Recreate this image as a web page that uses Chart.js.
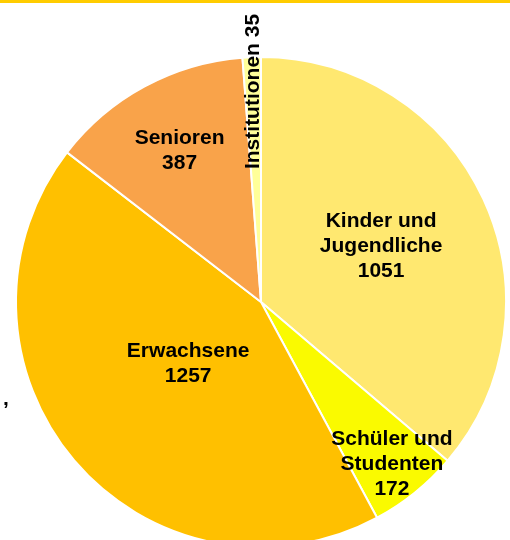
<!DOCTYPE html>
<html>
<head>
<meta charset="utf-8">
<script src="https://cdn.jsdelivr.net/npm/chart.js"></script>
<style>
    html, body { margin: 0; padding: 0; background: #ffffff; overflow: hidden; }
    #wrap { position: relative; width: 510px; height: 560px; }
</style>
</head>
<body>
<div id="wrap"><canvas id="nutzerChart"></canvas></div>
<script>
// Datos de la grafica
var categorias = ['Kinder und Jugendliche', 'Schüler und Studenten', 'Erwachsene', 'Senioren', 'Institutionen'];
var lineas = [['Kinder und', 'Jugendliche'], ['Schüler und', 'Studenten'], ['Erwachsene'], ['Senioren'], ['Institutionen']];
var valores = [1051, 172, 1257, 387, 35];
var colores = ['#FFE870', '#FAFA00', '#FFC000', '#F9A34A', '#FFFF99'];

window.onload = function () {

    // posicion de cada etiqueta (fraccion del radio)
    var radioEtiqueta = [0.54, 0.85, 0.39, 0.70, 0.86];
    var fuente = 'bold 21px "Liberation Sans", Arial, sans-serif';

    var etiquetasPlugin = {
        id: 'etiquetas',
        beforeDraw: function (chart) {
            var ctx = chart.ctx;
            ctx.save();
            ctx.fillStyle = '#FFCC00';
            ctx.fillRect(0, 0, chart.width, 3);
            ctx.restore();
        },
        afterDatasetsDraw: function (chart) {
            var ctx = chart.ctx;
            var arcs = chart.getDatasetMeta(0).data;
            ctx.save();
            ctx.font = fuente;
            ctx.fillStyle = '#000000';
            ctx.textAlign = 'center';
            ctx.textBaseline = 'middle';
            arcs.forEach(function (arc, i) {
                var p = arc.getProps(['x', 'y', 'startAngle', 'endAngle', 'outerRadius'], true);
                var medio = (p.startAngle + p.endAngle) / 2;
                var r = p.outerRadius * radioEtiqueta[i];
                var x = p.x + Math.cos(medio) * r;
                var y = p.y + Math.sin(medio) * r;
                if (i === 4) {
                    // Institutionen va girado
                    ctx.save();
                    ctx.translate(x, y);
                    ctx.rotate(-Math.PI / 2);
                    ctx.fillText(lineas[i][0] + ' ' + valores[i], 0, 0);
                    ctx.restore();
                    return;
                }
                var textos = lineas[i].concat([String(valores[i])]);
                var alto = 25;
                var y0 = y - (textos.length - 1) * alto / 2;
                textos.forEach(function (t, k) {
                    ctx.fillText(t, x, y0 + k * alto);
                });
            });
            // coma suelta a la izquierda
            ctx.textAlign = 'left';
            ctx.textBaseline = 'alphabetic';
            ctx.fillText(',', 3, 405);
            ctx.restore();
        }
    };

    var ctx = document.getElementById('nutzerChart');
    var config = {
        type: 'pie',
        data: {
            labels: categorias,
            datasets: [{
                data: valores,
                backgroundColor: colores,
                borderColor: '#ffffff',
                borderWidth: 2
            }]
        },
        options: {
            responsive: true,
            maintainAspectRatio: false,
            animation: false,
            layout: { padding: { left: 15, right: 3, top: 56, bottom: 12 } },
            plugins: {
                legend: { display: false },
                tooltip: { enabled: false }
            }
        },
        plugins: [etiquetasPlugin]
    };
    window.myPie = new Chart(ctx, config);
};
</script>
</body>
</html>
